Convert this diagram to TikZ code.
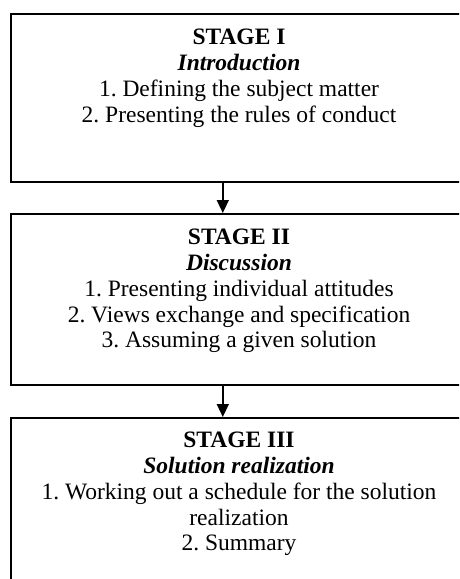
\documentclass[tikz,border=0pt]{standalone}
\usepackage{fontspec}
\setmainfont{Liberation Serif}
\frenchspacing
\usetikzlibrary{arrows.meta,positioning}

\begin{document}
\begin{tikzpicture}[x=1pt,y=-1pt,
		stagebox/.style={
			draw,
			line width=1.6pt,
			rectangle,
			minimum width=462pt,
			inner sep=0pt,
			anchor=north west,
		},
		stagetext/.style={
			align=center,
			anchor=north,
			inner sep=0pt,
			font=\fontsize{23.5}{25.8}\selectfont,
		},
		flow/.style={
			-{Triangle[length=13pt,width=12pt]},
			line width=1.6pt,
		}
	]
	\clip (0,0) rectangle (459,579);

	\node[stagebox, minimum height=168pt] (s1) at (10,13) {};
	\node[stagebox, minimum height=171pt] (s2) at (10,213) {};
	\node[stagebox, minimum height=200pt] (s3) at (10,417) {};

	\node[stagetext] (t1) at (239,29) {\textbf{STAGE I}\\ \textbf{\textit{Introduction}}\\ 1. Defining the subject matter\\ 2. Presenting the rules of conduct};
	\node[stagetext] (t2) at (239,229) {\textbf{STAGE II}\\ \textbf{\textit{Discussion}}\\ 1. Presenting individual attitudes\\ 2. Views exchange and specification\\ 3. Assuming a given solution};
	\node[stagetext] (t3) at (239,432) {\textbf{STAGE III}\\ \textbf{\textit{Solution realization}}\\ 1. Working out a schedule for the solution\\ realization\\ 2. Summary};

	\draw[flow] ([xshift=-19pt]s1.south) -- ([xshift=-19pt]s2.north);
	\draw[flow] ([xshift=-19pt]s2.south) -- ([xshift=-19pt]s3.north);
\end{tikzpicture}
\end{document}
